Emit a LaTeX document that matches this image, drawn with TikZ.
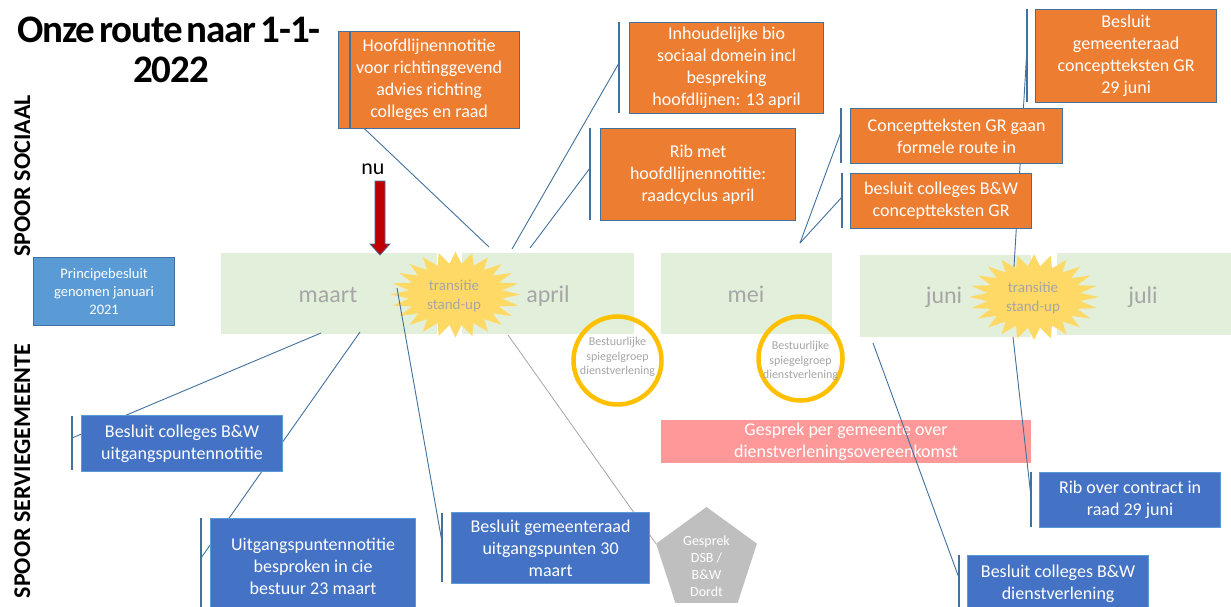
\documentclass[tikz,border=0pt]{standalone}
\usepackage{fontspec}
\setmainfont{Carlito}
\usetikzlibrary{shapes.geometric}
\definecolor{orng}{HTML}{ED7D31}
\definecolor{bluebox}{HTML}{4472C4}
\definecolor{lblue}{HTML}{5B9BD5}
\definecolor{edgeblue}{HTML}{41719C}
\definecolor{bandgreen}{HTML}{E2EFDA}
\definecolor{staryellow}{HTML}{FFD966}
\definecolor{ringyellow}{HTML}{FFC000}
\definecolor{pinkbox}{HTML}{FF9999}
\definecolor{pentgrey}{HTML}{BFBFBF}
\definecolor{monthgrey}{HTML}{A6A6A6}
\definecolor{arrowred}{HTML}{C00000}
\tikzset{
  boxbase/.style={line width=1.2pt, text=white, align=center, inner sep=0pt, anchor=north west, font=\fontsize{18}{22}\selectfont},
  obox/.style={boxbase, draw=edgeblue, fill=orng},
  bbox/.style={boxbase, draw=lblue, fill=bluebox},
  accent/.style={draw=edgeblue, line width=1.2pt},
  lead/.style={draw=edgeblue, line width=0.9pt},
  greylead/.style={draw=monthgrey, line width=0.8pt},
  band/.style={fill=bandgreen, draw=none},
  monthlbl/.style={text=monthgrey, anchor=base, inner sep=0pt, font=\fontsize{24}{24}\selectfont},
  startext/.style={text=monthgrey, align=center, inner sep=0pt, font=\fontsize{15}{19}\selectfont},
  ringnode/.style={circle, draw=ringyellow, line width=4.5pt, inner sep=0pt},
  ringtext/.style={text=monthgrey, align=center, inner sep=0pt, font=\fontsize{12}{14.5}\selectfont},
  sidelbl/.style={rotate=90, anchor=base, inner sep=0pt, font=\fontsize{24}{24}\bfseries\selectfont},
}
\newcommand{\starburst}[3]{%
  \fill[staryellow] plot[samples=49, domain=0:48, variable=\k]
   ({#1+cos(90+\k*7.5)*ifthenelse(mod(round(\k),2)==0,#3,0.72*#3)},
    {#2-sin(90+\k*7.5)*ifthenelse(mod(round(\k),2)==0,43,0.72*43)}) -- cycle;}
\begin{document}
\begin{tikzpicture}[x=1pt,y=-1pt]
\useasboundingbox (0,0) rectangle (1231,607);
\fill[white] (0,0) rectangle (1231,607);

% month bands
\fill[band] (221,253) rectangle (437,334);
\fill[band] (462,253) rectangle (634,334);
\fill[band] (661,253) rectangle (832,334);
\fill[band] (860,255) rectangle (1031,337);
\fill[band] (1057,253) rectangle (1231,335);

\node[monthlbl] (mmaart) at (328,302) {maart};
\node[monthlbl] (mapril) at (548,302) {april};
\node[monthlbl] (mmei) at (746,302) {mei};
\node[monthlbl] (mjuni) at (944,303) {juni};
\node[monthlbl] (mjuli) at (1143,303) {juli};

% starbursts
\starburst{455.5}{294.5}{65}
\node[startext] (st1) at (454,296) {transitie\\stand-up};
\starburst{1034}{297}{65}
\node[startext] (st2) at (1033,298) {transitie\\stand-up};

% rings
\node[ringnode, minimum size=88pt] (ring1) at (617.5,360.5) {};
\node[ringtext] (ring1t) at (617.5,357) {Bestuurlijke\\spiegelgroep\\dienstverlening};
\node[ringnode, minimum size=84pt] (ring2) at (800.5,358.5) {};
\node[ringtext] (ring2t) at (800.5,361) {Bestuurlijke\\spiegelgroep\\dienstverlening};

% pink bar
\node[boxbase, fill=pinkbox, minimum width=370pt, minimum height=43pt, line width=0pt] (pink) at (661,420) {Gesprek per gemeente over\\dienstverleningsovereenkomst};

% pentagon
\node[regular polygon, regular polygon sides=5, minimum size=106pt, inner sep=0pt, fill=pentgrey] (pent) at (706.5,560) {};
\node[text=white, align=center, inner sep=0pt, font=\fontsize{14}{17}\selectfont] (pentt) at (706.5,566) {Gesprek\\DSB /\\B\&W\\Dordt};

% leader end points
\coordinate (a1) at (350,115);  \coordinate (e1) at (489,247);
\coordinate (a2) at (619,63);   \coordinate (e2) at (512,249);
\coordinate (a3) at (590,168);  \coordinate (e3) at (530,248);
\coordinate (a4) at (1027,48);  \coordinate (e4) at (1014,267);
\coordinate (a5) at (841,132);  \coordinate (e5) at (800,243);
\coordinate (a6) at (842,197);
\coordinate (a7) at (72,438);   \coordinate (e7) at (321,333);
\coordinate (a8) at (201,558);  \coordinate (e8) at (360,332);
\coordinate (a9) at (442,542);  \coordinate (e9) at (397,288);
\coordinate (a10) at (1031,497); \coordinate (e10) at (1013,337);
\coordinate (a11) at (959,578); \coordinate (e11) at (873,343);
\coordinate (e12) at (508,335);

\draw[lead] (a1) -- (e1);
\draw[lead] (a2) -- (e2);
\draw[lead] (a3) -- (e3);
\draw[lead] (a4) -- (e4);
\draw[lead] (a5) -- (e5);
\draw[lead] (a6) -- (e5);
\draw[lead] (a7) -- (e7);
\draw[lead] (a8) -- (e8);
\draw[lead] (a9) -- (e9);
\draw[lead] (a10) -- (e10);
\draw[lead] (a11) -- (e11);
\draw[greylead] (e12) -- (pent.corner 2);

% orange boxes
\node[obox, minimum width=181pt, minimum height=97pt] (o1) at (338,31) {Hoofdlijnennotitie\\voor richtinggevend\\advies richting\\colleges en raad};
\node[obox, minimum width=194pt, minimum height=91pt] (o2) at (629,22) {Inhoudelijke bio\\sociaal domein incl\\bespreking\\hoofdlijnen: 13 april};
\node[obox, minimum width=195pt, minimum height=92pt] (o3) at (600,128) {Rib met\\hoofdlijnennotitie:\\raadcyclus april};
\node[obox, minimum width=181pt, minimum height=93pt] (o4) at (1035,9) {Besluit\\gemeenteraad\\conceptteksten GR\\29 juni};
\node[obox, minimum width=212pt, minimum height=55pt] (o5) at (850,108) {Conceptteksten GR gaan\\formele route in};
\node[obox, minimum width=181pt, minimum height=55pt] (o6) at (850,173) {besluit colleges B\&W\\conceptteksten GR};

% blue boxes
\node[boxbase, draw=edgeblue, fill=lblue, minimum width=141pt, minimum height=68pt, font=\fontsize{14.5}{18}\selectfont] (pb) at (33,257) {Principebesluit\\genomen januari\\2021};
\node[bbox, minimum width=201pt, minimum height=56pt] (b1) at (81,415) {Besluit colleges B\&W\\uitgangspuntennotitie};
\node[bbox, minimum width=205pt, minimum height=96pt] (b2) at (210,518) {Uitgangspuntennotitie\\besproken in cie\\bestuur 23 maart};
\node[bbox, minimum width=198pt, minimum height=71pt] (b3) at (451,512) {Besluit gemeenteraad\\uitgangspunten 30\\maart};
\node[bbox, minimum width=181pt, minimum height=55pt] (b4) at (1039,472) {Rib over contract in\\raad 29 juni};
\node[bbox, minimum width=181pt, minimum height=57pt] (b5) at (967,555) {Besluit colleges B\&W\\dienstverlening};

% accent bars
\draw[accent] (350,31) -- (350,128);
\draw[accent] (619,22) -- (619,113);
\draw[accent] (590,128) -- (590,220);
\draw[accent] (1027,9) -- (1027,102);
\draw[accent] (841,108) -- (841,163);
\draw[accent] (842,173) -- (842,228);
\draw[accent] (72,416) -- (72,470);
\draw[accent] (201,518) -- (201,607);
\draw[accent] (442,513) -- (442,582);
\draw[accent] (1031,472) -- (1031,527);
\draw[accent] (959,555) -- (959,607);

% now arrow
\node[anchor=base, inner sep=0pt, font=\fontsize{22}{22}\selectfont] (nu) at (373,175) {nu};
\filldraw[fill=arrowred, draw=edgeblue, line width=0.7pt]
  (375,181) -- (385,181) -- (385,244) -- (390,244) -- (380,255) -- (370,244) -- (375,244) -- cycle;

% title
\node[anchor=base, inner sep=0pt, font=\fontsize{39}{39}\bfseries\addfontfeatures{LetterSpace=-3}\selectfont] (title1) at (169,43) {Onze\hspace{4pt}route\hspace{4pt}naar\hspace{4pt}1-1-};
\node[anchor=base, inner sep=0pt, font=\fontsize{39}{39}\bfseries\addfontfeatures{LetterSpace=-3}\selectfont] (title2) at (171,83) {2022};

% side labels
\node[sidelbl] (spoor1) at (30,176) {SPOOR SOCIAAL};
\node[sidelbl] (spoor2) at (30,471) {SPOOR SERVIEGEMEENTE};
\end{tikzpicture}
\end{document}
